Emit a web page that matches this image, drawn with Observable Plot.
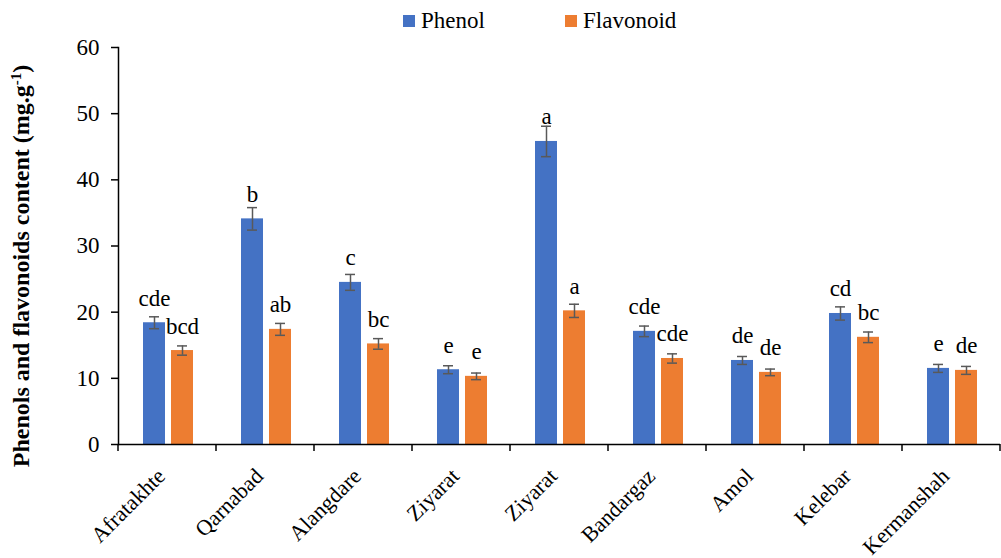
<!DOCTYPE html>
<html><head><meta charset="utf-8">
<script src="https://cdn.jsdelivr.net/npm/d3@7"></script>
<script src="https://cdn.jsdelivr.net/npm/@observablehq/plot@0.6"></script>
<style>
body{margin:0;background:#fff;font-family:'Times New Roman','Liberation Serif',serif;}
#legend{position:relative;height:36px;width:1001px;font-size:23px;color:#000;font-family:'Times New Roman','Liberation Serif',serif;}
.item{position:absolute;top:8px;display:flex;align-items:center;height:26px;}
.sw{width:12px;height:12px;margin-right:6px;}
#chart svg{overflow:visible;display:block;}
</style></head><body>
<div id="legend"></div>
<div id="chart"></div>
<script>
const categories = ["Afratakhte","Qarnabad","Alangdare","Ziyarat","Ziyarat","Bandargaz","Amol","Kelebar","Kermanshah"];
const phenol = [18.4,34.1,24.5,11.3,45.8,17.1,12.7,19.8,11.5];
const phenolErr = [0.9,1.7,1.2,0.6,2.3,0.8,0.6,1.0,0.6];
const phenolLetters = ["cde","b","c","e","a","cde","de","cd","e"];
const flavonoid = [14.2,17.4,15.2,10.3,20.2,13.0,10.9,16.2,11.2];
const flavonoidErr = [0.7,0.9,0.8,0.5,1.0,0.7,0.5,0.8,0.6];
const flavonoidLetters = ["bcd","ab","bc","e","a","cde","de","bc","de"];
const series = ["Phenol","Flavonoid"];
const colors = ["#4472C4","#ED7D31"];
const yTicks = [0,10,20,30,40,50,60];
const yLabel = "Phenols and flavonoids content (mg.g";
const yLabelSup = "-1";

// legend
const legend = document.getElementById("legend");
const legendLeft = [403, 565];
series.forEach((s, i) => {
  const it = document.createElement("div");
  it.className = "item";
  it.style.left = legendLeft[i] + "px";
  const sw = document.createElement("span");
  sw.className = "sw"; sw.style.background = colors[i];
  const tx = document.createElement("span"); tx.textContent = s;
  it.appendChild(sw); it.appendChild(tx);
  legend.appendChild(it);
});

const ids = categories.map((_, i) => i);
const P = ids.map(i => ({id: i, v: phenol[i], e: phenolErr[i], t: phenolLetters[i]}));
const F = ids.map(i => ({id: i, v: flavonoid[i], e: flavonoidErr[i], t: flavonoidLetters[i]}));
const errColor = "#595959";
const font = "'Times New Roman', 'Liberation Serif', serif";

const boundaryTicks = (index, scales, values, dims) => {
  const g = d3.create("svg:g");
  const y0 = dims.height - dims.marginBottom;
  const xs = ids.map(i => scales.x(i));
  xs.push(dims.width - dims.marginRight);
  for (const x of xs) {
    g.append("line").attr("x1", x).attr("x2", x).attr("y1", y0).attr("y2", y0 + 7)
      .attr("stroke", "#000").attr("stroke-width", 1.5);
  }
  return g.node();
};

const svg = Plot.plot({
  width: 1001,
  height: 522,
  marginLeft: 118,
  marginRight: 1,
  marginTop: 11,
  marginBottom: 114,
  style: {fontFamily: font, fontSize: "22px", color: "#000", background: "#fff"},
  x: {type: "band", domain: ids, padding: 0},
  y: {domain: [0, 60]},
  marks: [
    Plot.barY(P, {x: "id", y: "v", fill: colors[0], insetLeft: 25, insetRight: 51}),
    Plot.barY(F, {x: "id", y: "v", fill: colors[1], insetLeft: 53, insetRight: 23}),
    Plot.ruleX(P, {x: "id", y1: d => d.v - d.e, y2: d => d.v + d.e, dx: -13, stroke: errColor, strokeWidth: 1.5}),
    Plot.ruleX(F, {x: "id", y1: d => d.v - d.e, y2: d => d.v + d.e, dx: 15, stroke: errColor, strokeWidth: 1.5}),
    Plot.tickY(P, {x: "id", y: d => d.v + d.e, insetLeft: 31, insetRight: 57, stroke: errColor, strokeWidth: 1.5}),
    Plot.tickY(P, {x: "id", y: d => d.v - d.e, insetLeft: 31, insetRight: 57, stroke: errColor, strokeWidth: 1.5}),
    Plot.tickY(F, {x: "id", y: d => d.v + d.e, insetLeft: 59, insetRight: 29, stroke: errColor, strokeWidth: 1.5}),
    Plot.tickY(F, {x: "id", y: d => d.v - d.e, insetLeft: 59, insetRight: 29, stroke: errColor, strokeWidth: 1.5}),
    Plot.text(P, {x: "id", y: "v", text: "t", dx: -13, dy: -17, lineAnchor: "bottom", fontSize: 23, fontFamily: font, fill: "#000"}),
    Plot.text(F, {x: "id", y: "v", text: "t", dx: 15, dy: -17, lineAnchor: "bottom", fontSize: 23, fontFamily: font, fill: "#000"}),
    Plot.ruleY([0], {stroke: "#000", strokeWidth: 1.5}),
    Plot.frame({anchor: "left", stroke: "#000", strokeWidth: 1.5}),
    Plot.axisY({ticks: yTicks, tickSize: 7, tickPadding: 12, fontSize: 23, fontFamily: font, label: null, strokeWidth: 1.5}),
    Plot.axisX({tickSize: 0, tickPadding: 28, dx: -6, tickRotate: -45, tickFormat: i => categories[i], fontSize: 22, fontFamily: font, label: null}),
    boundaryTicks
  ]
});

const lbl = d3.select(svg).append("text")
  .attr("transform", "translate(29,230) rotate(-90)")
  .attr("text-anchor", "middle")
  .attr("font-weight", "bold")
  .attr("font-size", 24)
  .attr("font-family", font)
  .attr("fill", "#000");
lbl.append("tspan").text(yLabel);
lbl.append("tspan").attr("baseline-shift", "super").attr("font-size", 15).text(yLabelSup);
lbl.append("tspan").text(")");

document.getElementById("chart").appendChild(svg);
</script>
</body></html>
